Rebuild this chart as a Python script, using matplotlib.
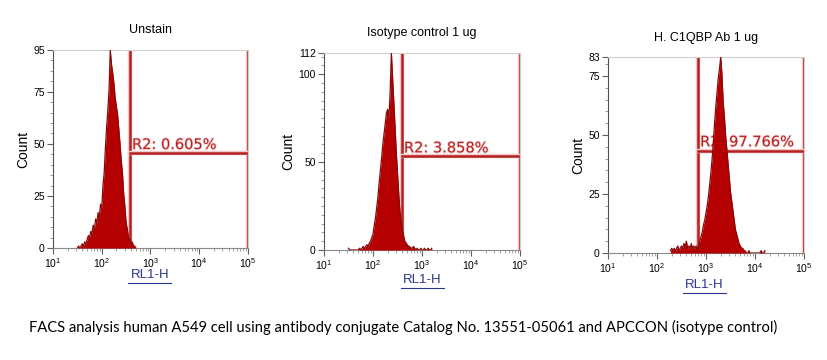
import numpy as np
import matplotlib.pyplot as plt
from matplotlib.lines import Line2D
import matplotlib.patheffects as pe
from matplotlib.ticker import LogLocator, MultipleLocator, FixedLocator, NullFormatter

# panel texts
titles = ['Unstain', 'Isotype control 1 ug', 'H. C1QBP Ab 1 ug']
gate_labels = ['R2: 0.605%', 'R2: 3.858%', 'R2: 97.766%']
caption = ('FACS analysis human A549 cell using antibody conjugate Catalog No. '
           '13551-05061 and APCCON (isotype control)')

y_max = [95, 112, 83]
y_ticks = [[0, 25, 50, 75, 95], [0, 50, 100, 112], [0, 25, 50, 75, 83]]
x_decades = [1, 2, 3, 4, 5]

# gate R2: lower edge, upper edge, drawn level (count)
gate_lo = [380, 390, 690]
gate_hi = [1e5, 1e5, 1e5]
gate_level = [45.7, 53.7, 43.4]

# histogram channels: log10 of first channel, 0.025 decade per channel
channel_step = 0.025
start_log = [1.5, 1.5, 2.275]

counts_unstain = [0, 1, 0, 1, 2, 1, 3, 2, 4, 6, 5, 8, 7, 11, 9, 14, 12, 17, 15, 21,
                  19, 30, 36, 48, 58, 66, 76, 95, 88, 84, 79, 72, 68, 64, 57, 50, 42,
                  36, 26, 20, 12, 9, 5, 4, 2, 3, 1, 1, 0]
counts_isotype = [1, 0, 0, 0, 0, 0, 0, 0, 0, 1, 0, 1, 2, 1, 2, 3, 2, 4, 5, 7,
                  9, 14, 18, 24, 30, 38, 45, 52, 60, 66, 72, 78, 80, 75, 90, 112, 98,
                  84, 70, 56, 44, 32, 22, 16, 11, 8, 5, 4, 3, 2, 2, 1, 1, 2, 1, 0, 1,
                  0, 0, 1, 0, 0, 1, 0, 0, 1, 0, 0, 1]
counts_c1qbp = [1, 2, 1, 2, 1, 2, 3, 1, 2, 3, 2, 4, 3, 5, 2, 3, 2, 4, 2, 3, 2, 3,
                1, 3, 5, 7, 9, 12, 14, 17, 20, 24, 29, 34, 40, 47, 55, 62, 68, 74,
                78, 83, 76, 64, 58, 50, 44, 38, 32, 26, 22, 18, 14, 10, 8, 6, 4, 3,
                2, 2, 1, 1, 0, 0, 1, 0, 0, 0, 0, 0, 0, 0, 0, 0, 1, 0, 0, 1]
all_counts = [counts_unstain, counts_isotype, counts_c1qbp]

# axes boxes in figure fractions (left, bottom, width, height)
boxes = [[0.064, 0.311, 0.2355, 0.550],
         [0.3913, 0.3056, 0.2367, 0.547],
         [0.7343, 0.2972, 0.2367, 0.544]]
xlabel_pos = [(0.181, 0.236), (0.510, 0.222), (0.851, 0.208)]

fill_color = '#b40000'
edge_color = '#8a0a0a'
gate_color = '#b52020'

plt.rcParams['font.family'] = ['Liberation Sans', 'DejaVu Sans']
fig = plt.figure(figsize=(8.28, 3.6), dpi=100)

for i in range(3):
    ax = fig.add_axes(boxes[i])
    counts = np.array(all_counts[i])
    centers = 10 ** (start_log[i] + channel_step * np.arange(len(counts)))

    # gate text sits under the histogram
    ax.text(gate_lo[i] * 1.1, gate_level[i] + 1.8, gate_labels[i],
            color=gate_color, fontsize=10.5, family='DejaVu Sans', zorder=1,
            path_effects=[pe.withStroke(linewidth=1.2, foreground='#f4d0d0')])

    stroke = [pe.Stroke(linewidth=3.2, foreground='#f2c8c8'), pe.Normal()]
    ax.plot([gate_lo[i], gate_lo[i]], [0, y_max[i]], color=gate_color, lw=1.8,
            path_effects=stroke, zorder=2, solid_capstyle='butt')
    ax.plot([gate_hi[i], gate_hi[i]], [0, y_max[i]], color=gate_color, lw=1.8,
            path_effects=stroke, zorder=2, solid_capstyle='butt')
    ax.plot([gate_lo[i], gate_hi[i]], [gate_level[i], gate_level[i]],
            color=gate_color, lw=1.8, path_effects=stroke, zorder=2)

    ax.fill_between(centers, counts, 0, color=fill_color, lw=0, zorder=3)
    ax.plot(centers, counts, color=edge_color, lw=0.9, zorder=4)

    ax.set_xscale('log')
    ax.set_xlim(10, 1e5)
    ax.set_ylim(0, y_max[i])

    ax.xaxis.set_major_locator(FixedLocator([10 ** d for d in x_decades]))
    ax.set_xticklabels(['$\\mathregular{10^{%d}}$' % d for d in x_decades])
    ax.xaxis.set_minor_locator(LogLocator(base=10, subs=np.arange(2, 10)))
    ax.xaxis.set_minor_formatter(NullFormatter())
    ax.set_yticks(y_ticks[i])
    ax.yaxis.set_minor_locator(MultipleLocator(5))

    ax.tick_params(axis='both', which='major', labelsize=7.5, length=4,
                   color='#606060', pad=2)
    ax.tick_params(axis='both', which='minor', length=2, color='#909090')

    for side in ['top', 'right']:
        ax.spines[side].set_color('#cfcfcf')
    ax.spines['left'].set_color('#505050')
    ax.spines['bottom'].set_color('#8a8a8a')

    ax.set_title(titles[i], fontsize=9, pad=12)
    ax.set_ylabel('Count', fontsize=10, labelpad=2)

    # underlined blue parameter name
    lx, ly = xlabel_pos[i]
    fig.text(lx, ly, 'RL1-H', color='#2a3590', fontsize=9.5,
             ha='center', va='center')
    fig.add_artist(Line2D([lx - 0.026, lx + 0.026], [ly - 0.022, ly - 0.022],
                          color='#2a3590', lw=0.8))

fig.text(0.035, 0.089, caption, fontsize=10.6, family=['Lato', 'DejaVu Sans'],
         va='center', ha='left')

fig.savefig('out.png', dpi=100)
